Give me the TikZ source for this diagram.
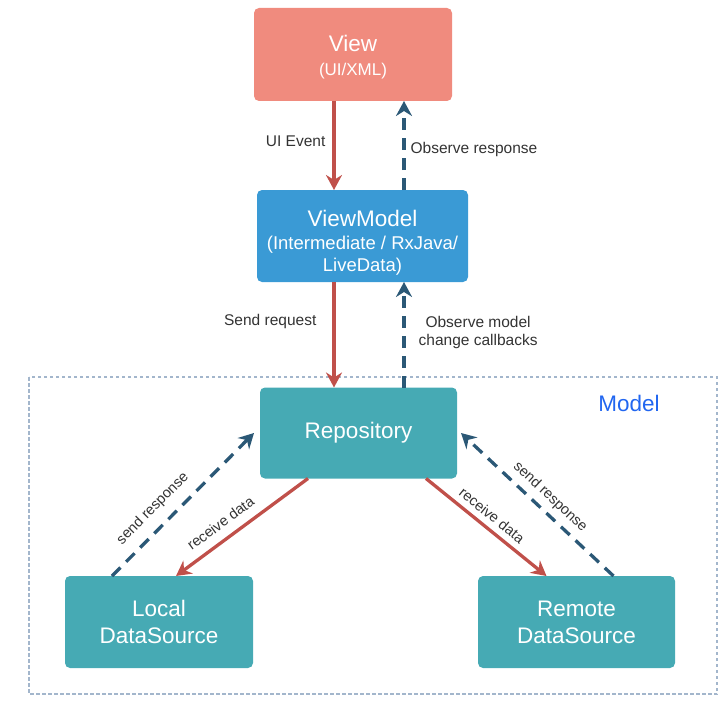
\documentclass[tikz,border=0pt]{standalone}
\usepackage{fontspec}
\setmainfont{Liberation Sans}
\usetikzlibrary{arrows.meta}
\definecolor{viewc}{HTML}{F08B7E}
\definecolor{vmc}{HTML}{3A9AD5}
\definecolor{tealc}{HTML}{46AAB4}
\definecolor{reqc}{HTML}{C0504A}
\definecolor{respc}{HTML}{2B5876}
\definecolor{modelc}{HTML}{2166F0}
\definecolor{borderc}{HTML}{A3B6CC}
\definecolor{labelc}{HTML}{333333}
\tikzset{
  box/.style={rectangle, rounded corners=5pt, draw=none, outer sep=0pt,
    text=white, align=center, font=\fontsize{22.5}{27}\selectfont},
  boxtext/.style={text=white, align=center, inner sep=0pt, font=\fontsize{22.5}{27}\selectfont},
  reqarrow/.style={draw=reqc, line width=3.3pt,
    -{Stealth[length=15pt, width=16pt, inset=5pt]}},
  resparrow/.style={draw=respc, line width=3.3pt, dash pattern=on 12pt off 8pt,
    -{Stealth[length=15pt, width=16pt, inset=5pt]}},
  lbl/.style={text=labelc, font=\fontsize{15.5}{18.5}\selectfont, inner sep=0pt},
  slbl/.style={text=labelc, font=\fontsize{14.5}{17}\selectfont, inner sep=0pt, sloped},
}
\begin{document}
\begin{tikzpicture}[x=1pt, y=-1pt]
\useasboundingbox (0,0) rectangle (728,706);

% Model group frame
\draw[borderc, line width=1.4pt, dash pattern=on 3.5pt off 2.5pt] (29,377) rectangle (717,694);
\node[text=modelc, font=\fontsize{22.5}{26}\selectfont] (modellbl) at (629,403) {Model};

% Components
\node[box, fill=viewc, minimum width=198pt, minimum height=93pt] (view) at (353,54.5) {};
\node[boxtext] (viewtext) at ([yshift=-3pt]view.center)
  {View\\[-3pt]\fontsize{17}{20}\selectfont (UI/XML)};
\node[box, fill=vmc, minimum width=211pt, minimum height=92pt] (vm) at (362.5,236) {};
\node[boxtext] (vmtext) at ([yshift=-7pt]vm.center)
  {ViewModel\\[-4pt]\fontsize{18.5}{21.5}\selectfont (Intermediate / RxJava/\\[-5pt]
   \fontsize{18.5}{21.5}\selectfont LiveData)};
\node[box, fill=tealc, minimum width=197pt, minimum height=91pt] (repo) at (358.5,433) {Repository};
\node[box, fill=tealc, minimum width=188pt, minimum height=92pt] (local) at (159,622) {Local\\DataSource};
\node[box, fill=tealc, minimum width=197pt, minimum height=92pt] (remote) at (576.5,622) {Remote\\DataSource};

% Lanes for the vertical connectors
\coordinate (down) at ([xshift=-28.5pt]vm.north);
\coordinate (up) at ([xshift=41.5pt]vm.north);

% View <-> ViewModel
\draw[reqarrow] (view.south -| down) -- (vm.north -| down)
  node[lbl, pos=0.45, left=7pt] {UI Event};
\draw[resparrow] (vm.north -| up) -- (view.south -| up)
  node[lbl, pos=0.46, right=5pt] {Observe response};

% ViewModel <-> Repository
\draw[reqarrow] (vm.south -| down) -- (repo.north -| down)
  node[lbl, pos=0.37, left=16pt] {Send request};
\draw[resparrow] (repo.north -| up) -- (vm.south -| up)
  node[lbl, pos=0.52, right=13pt, align=center] {Observe model\\change callbacks};

% Repository <-> data sources
\draw[reqarrow] ([xshift=48pt]repo.south west) -- ([xshift=17pt]local.north)
  node[slbl, pos=0.59, above=9pt] {receive data};
\draw[resparrow] ([xshift=47pt]local.north west) -- ([xshift=-6pt]repo.west)
  node[slbl, pos=0.38, above=10pt] {send response};
\draw[reqarrow] ([xshift=-31pt]repo.south east) -- ([xshift=-30pt]remote.north)
  node[slbl, pos=0.48, above=6pt] {receive data};
\draw[resparrow] ([xshift=37pt]remote.north) -- ([xshift=4pt]repo.east)
  node[slbl, pos=0.48, above=6pt] {send response};
\end{tikzpicture}
\end{document}
